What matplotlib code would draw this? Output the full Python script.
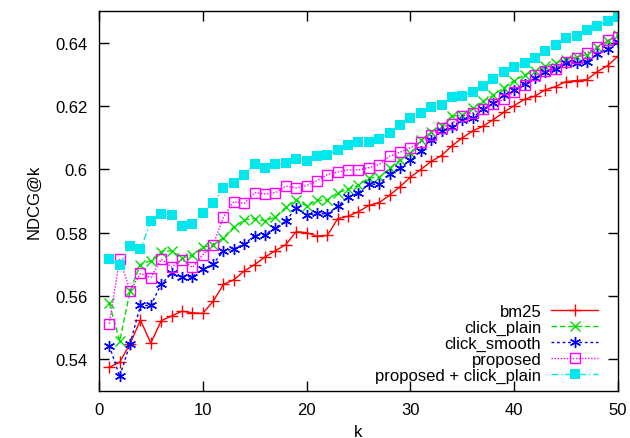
import matplotlib
matplotlib.use("Agg")
import matplotlib.pyplot as plt
import numpy as np

plt.rcParams["font.family"] = ["Liberation Sans", "DejaVu Sans"]

k = list(range(1, 51))

bm25 = [0.5375, 0.5391, 0.5449, 0.5524, 0.5451, 0.5522, 0.5537, 0.5552, 0.5547, 0.5545,
        0.5583, 0.5637, 0.5651, 0.5679, 0.5699, 0.5723, 0.5743, 0.5762, 0.5803, 0.5800,
        0.5789, 0.5791, 0.5844, 0.5852, 0.5866, 0.5886, 0.5895, 0.5918, 0.5945, 0.5975,
        0.5999, 0.6025, 0.6043, 0.6074, 0.6099, 0.6121, 0.6136, 0.6157, 0.6180, 0.6201,
        0.6221, 0.6231, 0.6251, 0.6261, 0.6277, 0.6280, 0.6283, 0.6308, 0.6327, 0.6357]

click_plain = [0.5577, 0.5457, 0.5616, 0.5699, 0.5712, 0.5740, 0.5743, 0.5719, 0.5729, 0.5754,
               0.5761, 0.5784, 0.5818, 0.5841, 0.5844, 0.5837, 0.5849, 0.5880, 0.5904, 0.5884,
               0.5902, 0.5903, 0.5926, 0.5937, 0.5949, 0.5973, 0.5974, 0.6003, 0.6030, 0.6050,
               0.6092, 0.6117, 0.6136, 0.6168, 0.6170, 0.6194, 0.6214, 0.6234, 0.6257, 0.6280,
               0.6298, 0.6309, 0.6325, 0.6335, 0.6346, 0.6354, 0.6362, 0.6385, 0.6404, 0.6425]

click_smooth = [0.5443, 0.5346, 0.5449, 0.5570, 0.5570, 0.5638, 0.5671, 0.5660, 0.5661, 0.5684,
                0.5701, 0.5742, 0.5749, 0.5764, 0.5790, 0.5794, 0.5816, 0.5836, 0.5879, 0.5855,
                0.5861, 0.5858, 0.5884, 0.5911, 0.5926, 0.5953, 0.5952, 0.5986, 0.6005, 0.6028,
                0.6058, 0.6091, 0.6122, 0.6134, 0.6157, 0.6162, 0.6190, 0.6208, 0.6235, 0.6251,
                0.6270, 0.6287, 0.6308, 0.6317, 0.6334, 0.6335, 0.6338, 0.6365, 0.6381, 0.6403]

proposed = [0.5512, 0.5718, 0.5616, 0.5671, 0.5658, 0.5716, 0.5691, 0.5715, 0.5690, 0.5730,
            0.5761, 0.5850, 0.5898, 0.5892, 0.5926, 0.5922, 0.5926, 0.5947, 0.5941, 0.5948,
            0.5964, 0.5983, 0.5991, 0.5998, 0.5998, 0.6005, 0.6015, 0.6041, 0.6054, 0.6068,
            0.6085, 0.6109, 0.6131, 0.6144, 0.6168, 0.6179, 0.6190, 0.6205, 0.6221, 0.6245,
            0.6267, 0.6297, 0.6309, 0.6318, 0.6338, 0.6351, 0.6368, 0.6385, 0.6408, 0.6417]

proposed_click = [0.5717, 0.5697, 0.5759, 0.5747, 0.5836, 0.5859, 0.5855, 0.5820, 0.5826, 0.5861,
                  0.5893, 0.5942, 0.5956, 0.5981, 0.6018, 0.6003, 0.6016, 0.6019, 0.6032, 0.6025,
                  0.6041, 0.6046, 0.6060, 0.6076, 0.6085, 0.6085, 0.6096, 0.6114, 0.6140, 0.6161,
                  0.6178, 0.6196, 0.6204, 0.6228, 0.6232, 0.6244, 0.6262, 0.6284, 0.6306, 0.6322,
                  0.6334, 0.6350, 0.6373, 0.6391, 0.6414, 0.6422, 0.6441, 0.6453, 0.6467, 0.6481]

fig = plt.figure(figsize=(6.3, 4.39), dpi=100)
ax = fig.add_axes([0.157, 0.107, 0.824, 0.866])

ax.plot(k, bm25, color="#ff0000", linestyle="-", linewidth=1,
        marker="+", markersize=9, markeredgewidth=1, label="bm25")
ax.plot(k, click_plain, color="#00dd00", linestyle=(0, (4, 2)), linewidth=1,
        marker="x", markersize=7, markeredgewidth=1, label="click_plain")
ax.plot(k, click_smooth, color="#0000ff", linestyle=(0, (2, 2)), linewidth=1,
        marker=(6, 2, 0), markersize=8, markeredgewidth=1, label="click_smooth")
ax.plot(k, proposed, color="#ff00ff", linestyle=(0, (1, 1.2)), linewidth=1,
        marker="s", markersize=7, markerfacecolor="none", markeredgewidth=1, label="proposed")
ax.plot(k, proposed_click, color="#00e8ee", linestyle=(0, (5, 2, 1, 2)), linewidth=1,
        marker="s", markersize=7, markeredgewidth=0, label="proposed + click_plain")

ax.set_xlim(0, 50)
ax.set_ylim(0.53, 0.65)
ax.set_xticks([0, 10, 20, 30, 40, 50])
ax.set_yticks([0.54, 0.56, 0.58, 0.6, 0.62, 0.64])
ax.set_yticklabels(["0.54", "0.56", "0.58", "0.6", "0.62", "0.64"])
ax.tick_params(direction="in", length=7, width=1, top=True, right=True,
               labelsize=12, pad=8)
for s in ax.spines.values():
    s.set_linewidth(1)

ax.set_xlabel("k", fontsize=12, labelpad=5)
ax.set_ylabel("NDCG@k", fontsize=12, labelpad=10)

ax.legend(loc="lower right", frameon=False, markerfirst=False, fontsize=12,
          handlelength=2.8, handletextpad=0.6, labelspacing=0.05,
          bbox_to_anchor=(0.99, -0.018))

fig.savefig("out.png", dpi=100)
